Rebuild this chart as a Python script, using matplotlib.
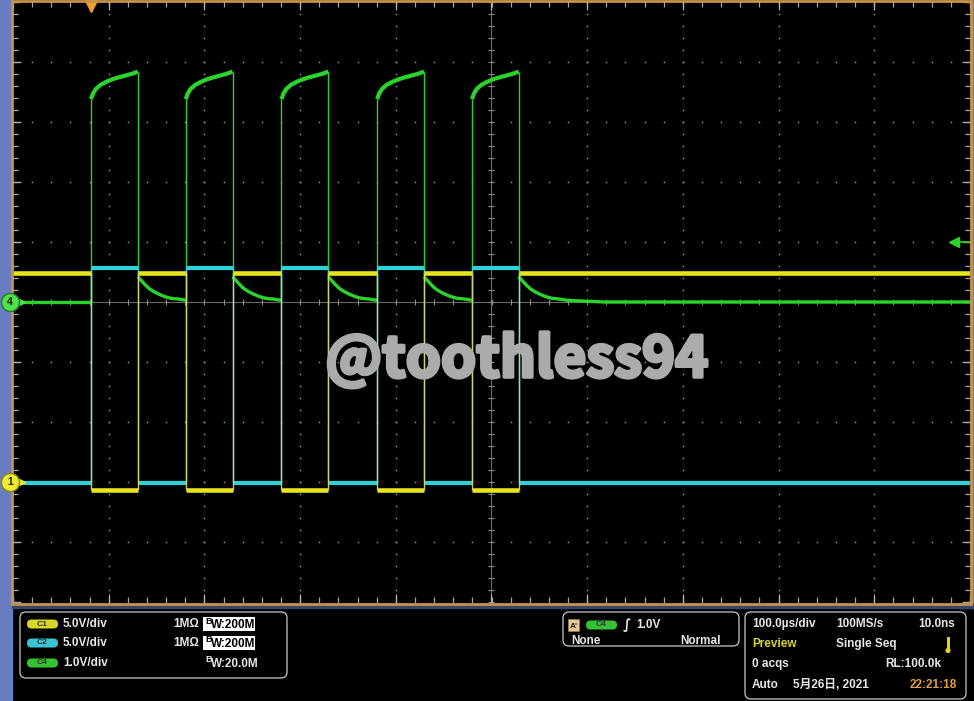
import matplotlib
matplotlib.use('Agg')
import matplotlib.pyplot as plt
import matplotlib.transforms as mtransforms
import matplotlib.patheffects as pe
from matplotlib.patches import Rectangle, FancyBboxPatch, Circle
import numpy as np

# scope settings
t_per_div = 100.0          # us/div
trig_div = -4.185          # trigger point, div from screen centre
c1_scale, c1_off = 5.0, -3.0
c2_scale, c2_off = 5.0, -3.0
c4_scale, c4_off = 1.0, 0.0
trig_level = 1.0           # V on C4

# pulse edges, us after trigger
pulse_on = [0, 99, 199, 299, 398]
pulse_off = [49, 148, 248, 348, 447]

# C1 / C2 levels (V): idle level and level while pulse is on
c1_idle, c1_pulse = 17.4, -0.65
c2_idle, c2_pulse = -0.1, 17.8

# C4 shape while pulse is on / after it ends (us from edge, V)
c4_on_t = [0, 2, 5, 10, 16, 22, 28, 35, 42, 49]
c4_on_v = [3.38, 3.47, 3.55, 3.62, 3.67, 3.71, 3.74, 3.77, 3.80, 3.84]
c4_off_t = [0, 4, 8, 12, 17, 22, 28, 35, 42, 50, 60, 75, 90]
c4_off_v = [0.42, 0.35, 0.28, 0.22, 0.17, 0.13, 0.09, 0.06, 0.05, 0.03, 0.02, 0.01, 0.0]
c4_base = 0.0

YEL = '#e8e41c'
CYA = '#2ed0da'
GRN = '#2ad42a'
ORG = '#c8924a'

plt.rcParams['font.family'] = ['Liberation Sans', 'Noto Sans CJK SC', 'DejaVu Sans']
plt.rcParams['font.weight'] = 'bold'

W, H = 974, 701
fig = plt.figure(figsize=(W / 100, H / 100), dpi=100, facecolor='black')

bg = fig.add_axes([0, 0, 1, 1], facecolor='black', zorder=0)
bg.set_xlim(0, W); bg.set_ylim(H, 0); bg.axis('off')
bg.add_patch(Rectangle((0, 0), 12, H, color='#6a7cc0'))
bg.add_patch(Rectangle((971, 0), 3, 608, color='#6a7cc0'))
bg.add_patch(Rectangle((12, 604), 962, 4, color='#34466e'))

rect = [13 / W, (H - 602) / H, 957 / W, 600 / H]

# graticule, in divisions
gr = fig.add_axes(rect, facecolor='black', zorder=1)
gr.set_xlim(-5, 5); gr.set_ylim(-5, 5); gr.axis('off')
minor = np.arange(-5, 5.001, 0.2)
for k in range(-4, 5):
    if k == 0:
        continue
    gr.plot(np.full_like(minor, k), minor, ls='none', marker='s', ms=1.1, mew=0, color='#8c8c8c')
    gr.plot(minor, np.full_like(minor, k), ls='none', marker='s', ms=1.1, mew=0, color='#8c8c8c')
gr.axhline(0, color='#6a6a6a', lw=0.8)
gr.axvline(0, color='#6a6a6a', lw=0.8)
gr.plot(np.zeros_like(minor), minor, ls='none', marker='_', ms=5, mew=0.8, color='#8c8c8c')
gr.plot(minor, np.zeros_like(minor), ls='none', marker='|', ms=5, mew=0.8, color='#8c8c8c')
major = np.arange(-5, 5.001, 1.0)
for e in (-5, 5):
    gr.plot(minor, np.full_like(minor, e), ls='none', marker='|', ms=7, mew=0.9, color='#a8a8a8')
    gr.plot(major, np.full_like(major, e), ls='none', marker='|', ms=12, mew=0.9, color='#b0b0b0')
    gr.plot(np.full_like(minor, e), minor, ls='none', marker='_', ms=7, mew=0.9, color='#a8a8a8')
    gr.plot(np.full_like(major, e), major, ls='none', marker='_', ms=12, mew=0.9, color='#b0b0b0')

# time window
t_mid = -trig_div * t_per_div
t0, t1 = t_mid - 5 * t_per_div, t_mid + 5 * t_per_div


def chan_axes(scale, off, z):
    a = fig.add_axes(rect, facecolor='none', zorder=z)
    a.set_xlim(t0, t1)
    a.set_ylim((-5 - off) * scale, (5 - off) * scale)
    a.axis('off')
    return a


a4 = chan_axes(c4_scale, c4_off, 2)
a2 = chan_axes(c2_scale, c2_off, 3)
a1 = chan_axes(c1_scale, c1_off, 4)

# C1 and C2: square pulses
idle_from = [t0] + pulse_off
idle_to = pulse_on + [t1]
for a, idle, puls, col, lw, ecol in ((a2, c2_idle, c2_pulse, CYA, 3.0, CYA),
                                     (a1, c1_idle, c1_pulse, YEL, 3.3, '#dcd868')):
    a.hlines([idle] * len(idle_from), idle_from, idle_to, color=col, lw=lw)
    a.hlines([puls] * len(pulse_on), pulse_on, pulse_off, color=col, lw=lw)
    a.vlines(pulse_on + pulse_off, min(idle, puls), max(idle, puls), color=ecol, lw=1.0, alpha=0.9)

# C4
a4.hlines(c4_base, t0, pulse_on[0], color=GRN, lw=2.4)
for i, (on, off) in enumerate(zip(pulse_on, pulse_off)):
    xs = [on + t for t in c4_on_t]
    a4.plot(xs, c4_on_v, color=GRN, lw=3.0, solid_capstyle='butt')
    nxt = pulse_on[i + 1] if i + 1 < len(pulse_on) else t1
    dx = [off + t for t in c4_off_t if off + t <= nxt]
    dv = c4_off_v[:len(dx)]
    if dx[-1] < nxt:
        dx.append(nxt); dv.append(dv[-1])
    a4.plot(dx, dv, color=GRN, lw=2.4, solid_capstyle='butt')
    prev = c4_base if i == 0 else dv0
    a4.vlines(on, prev, c4_on_v[0], color=GRN, lw=1.0)
    a4.vlines(off, c4_off_v[0], c4_on_v[-1], color=GRN, lw=1.0)
    dv0 = dv[-1]

# trigger markers
tb = mtransforms.blended_transform_factory(a4.transData, a4.transAxes)
a4.plot([0], [0.993], transform=tb, marker='v', ms=8, color='#f0a030', mec='#f0a030', clip_on=False)
rb = mtransforms.blended_transform_factory(a4.transAxes, a4.transData)
a4.plot([0.985, 1.0], [trig_level, trig_level], transform=rb, color=GRN, lw=1.2, clip_on=False)
a4.plot([0.983], [trig_level], transform=rb, marker='<', ms=7, color=GRN, mec=GRN, clip_on=False)

# overlay in pixels
top = fig.add_axes([0, 0, 1, 1], facecolor='none', zorder=5)
top.set_xlim(0, W); top.set_ylim(H, 0); top.axis('off')
top.add_patch(Rectangle((12, 0.5), 959, 603.5, fill=False, ec=ORG, lw=2))

# channel ground markers
mb = mtransforms.blended_transform_factory(top.transData, gr.transData)
for lab, off, fc, ec in (('1', c1_off, '#f0ec30', '#8a8a10'), ('4', c4_off, '#4ee04e', '#1e7a1e')):
    top.plot([22], [off], transform=mb, marker='>', ms=5, color=fc, mec=fc, clip_on=False)
    top.plot([10], [off], transform=mb, marker='o', ms=13, color=fc, mec=ec, mew=1, clip_on=False)
    top.text(10, off, lab, transform=mb, ha='center', va='center', fontsize=7.5, color='#202000')

# watermark
WM = '#ababab'
top.text(517, 377, '@toothless94', ha='center', va='baseline', fontsize=40.5,
         family=['Noto Sans CJK SC'], fontweight='bold', color=WM,
         path_effects=[pe.Stroke(linewidth=2.6, foreground=WM), pe.Normal()])

TXT = '#e6e6e6'
FS = 8.5


def panel(x, y, w, h):
    top.add_patch(FancyBboxPatch((x, y), w, h, boxstyle='round,pad=0,rounding_size=6',
                                 fc='black', ec='#c8c8c8', lw=0.9))


def badge(x, y, lab, col):
    top.add_patch(FancyBboxPatch((x, y - 4.5), 31, 9, boxstyle='round,pad=0,rounding_size=4.5',
                                 fc=col, ec='none'))
    top.text(x + 15.5, y, lab, ha='center', va='center', fontsize=6, color='#303030')


# vertical panel
panel(20, 612, 267, 66)
rows = [624, 643, 663]
for y, lab, col, vdiv in zip(rows, ['C1', 'C2', 'C4'], ['#d8d628', '#38c4d0', '#34c234'],
                             ['5.0V/div', '5.0V/div', '1.0V/div']):
    badge(27, y, lab, col)
    top.text(63, y, vdiv, ha='left', va='center', fontsize=FS, color=TXT)
for y, bw in zip(rows[:2], ['200M', '200M']):
    top.text(173, y, '1MΩ', ha='left', va='center', fontsize=FS, color=TXT)
    top.add_patch(Rectangle((203, y - 7), 52, 14, fc='white', ec='none'))
    top.text(205, y - 3, 'B', ha='left', va='center', fontsize=6.5, color='black')
    top.text(211, y + 1, 'W:' + bw, ha='left', va='center', fontsize=FS, color='black')
top.text(205, rows[2] - 3, 'B', ha='left', va='center', fontsize=6.5, color=TXT)
top.text(211, rows[2] + 1, 'W:20.0M', ha='left', va='center', fontsize=FS, color=TXT)

# trigger panel
panel(563, 612, 176, 34)
top.add_patch(Rectangle((568, 619), 11, 12, fc='#e6c894', ec='#9a7a4a', lw=0.6))
top.text(570, 626, "A'", ha='left', va='center', fontsize=6, color='#202020')
badge(586, 625, 'C4', '#34c234')
top.text(623, 625, '∫', ha='left', va='center', fontsize=10, family=['DejaVu Sans'], color=TXT)
top.text(636, 625, '1.0V', ha='left', va='center', fontsize=FS, color=TXT)
top.text(571, 641, 'None', ha='left', va='center', fontsize=FS, color=TXT)
top.text(721, 641, 'Normal', ha='right', va='center', fontsize=FS, color=TXT)

# horizontal panel
panel(745, 612, 221, 87)
top.text(752, 624, '100.0µs/div', ha='left', va='center', fontsize=FS, color=TXT)
top.text(836, 624, '100MS/s', ha='left', va='center', fontsize=FS, color=TXT)
top.text(955, 624, '10.0ns', ha='right', va='center', fontsize=FS, color=TXT)
top.text(752, 644, 'Preview', ha='left', va='center', fontsize=FS, color='#d8d430')
top.text(836, 644, 'Single Seq', ha='left', va='center', fontsize=FS, color=TXT)
top.add_patch(Rectangle((946.5, 637), 3, 12, fc='#e8d020', ec='none'))
top.add_patch(Circle((948, 650.5), 2.6, fc='#e8d020', ec='none'))
top.text(752, 664, '0 acqs', ha='left', va='center', fontsize=FS, color=TXT)
top.text(941, 664, 'RL:100.0k', ha='right', va='center', fontsize=FS, color=TXT)
top.text(752, 685, 'Auto', ha='left', va='center', fontsize=FS, color=TXT)
top.text(793, 685, '5月26日, 2021', ha='left', va='center', fontsize=FS, color=TXT)
top.text(957, 685, '22:21:18', ha='right', va='center', fontsize=FS, color='#e0a040')

fig.savefig('out.png', dpi=100, facecolor='black')
